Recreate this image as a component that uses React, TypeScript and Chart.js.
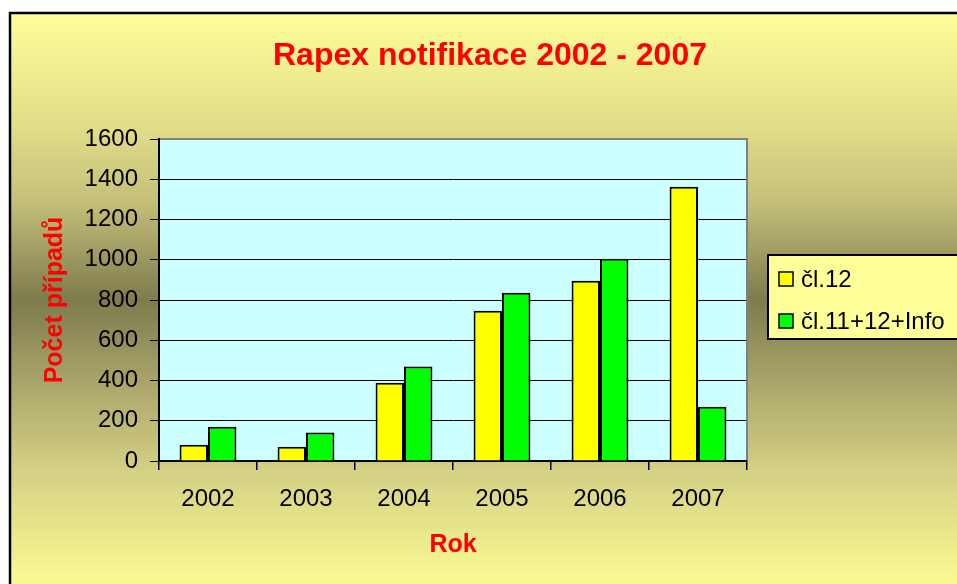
import React, { useEffect, useRef } from "react";
import { Chart, registerables } from "chart.js";

Chart.register(...registerables);

const years = ["2002", "2003", "2004", "2005", "2006", "2007"];
const cl12 = [81, 71, 389, 747, 896, 1363];
const cl11 = [170, 141, 469, 836, 1005, 270];
const seriesLabels = ["čl.12", "čl.11+12+Info"];
const seriesColors = ["#FFFF00", "#00FF00"];
const yMin = 0;
const yMax = 1600;
const yStep = 200;
const chartTitle = "Rapex notifikace 2002 - 2007";
const xTitle = "Rok";
const yTitle = "Počet případů";

const FONT = '"Liberation Sans", Arial, sans-serif';
const W = 980;
const H = 600;

const decorPlugin = {
  id: "decor",
  beforeDraw(chart: any) {
    const ctx = chart.ctx;
    ctx.save();
    ctx.fillStyle = "#FFFFFF";
    ctx.fillRect(0, 0, W, H);
    const g = ctx.createLinearGradient(0, 12, 0, 600);
    g.addColorStop(0, "#FFFF99");
    g.addColorStop(0.2, "#E0DC88");
    g.addColorStop(0.32, "#C4C07A");
    g.addColorStop(0.49, "#7E7B4E");
    g.addColorStop(0.66, "#B2AE70");
    g.addColorStop(0.78, "#D4D084");
    g.addColorStop(0.97, "#FAFA92");
    g.addColorStop(1, "#FFFF99");
    ctx.fillStyle = g;
    ctx.fillRect(10, 13, 1000, 700);
    ctx.strokeStyle = "#000";
    ctx.lineWidth = 2.5;
    ctx.beginPath();
    ctx.moveTo(10, 700);
    ctx.lineTo(10, 13);
    ctx.lineTo(1000, 13);
    ctx.stroke();
    const a = chart.chartArea;
    ctx.fillStyle = "#CCFFFF";
    ctx.fillRect(a.left, a.top, a.right - a.left, a.bottom - a.top);
    ctx.restore();
  },
  afterDraw(chart: any) {
    const ctx = chart.ctx;
    const a = chart.chartArea;
    ctx.save();
    ctx.strokeStyle = "#808080";
    ctx.lineWidth = 2;
    ctx.beginPath();
    ctx.moveTo(a.left + 1, a.top);
    ctx.lineTo(a.right, a.top);
    ctx.lineTo(a.right, a.bottom - 1);
    ctx.stroke();
    ctx.fillStyle = "#FF0000";
    ctx.font = `bold 32px ${FONT}`;
    ctx.textAlign = "center";
    ctx.textBaseline = "middle";
    ctx.fillText(chartTitle, 490, 56);
    const lx = 768, ly = 255, lw = 205, lh = 84;
    ctx.fillStyle = "#FFFF99";
    ctx.fillRect(lx, ly, lw, lh);
    ctx.strokeStyle = "#000";
    ctx.lineWidth = 2;
    ctx.strokeRect(lx, ly, lw, lh);
    chart.data.datasets.forEach((ds: any, i: number) => {
      const cy = 279 + i * 42;
      ctx.fillStyle = ds.backgroundColor;
      ctx.fillRect(779, cy - 7, 14, 14);
      ctx.lineWidth = 1.5;
      ctx.strokeStyle = "#000";
      ctx.strokeRect(779, cy - 7, 14, 14);
      ctx.fillStyle = "#000";
      ctx.font = `24px ${FONT}`;
      ctx.textAlign = "left";
      ctx.textBaseline = "middle";
      ctx.fillText(ds.label, 801, cy + 1);
    });
    ctx.restore();
  },
};

export default function App() {
  const ref = useRef<HTMLCanvasElement | null>(null);
  useEffect(() => {
    if (!ref.current) return;
    const chart = new Chart(ref.current, {
      type: "bar",
      data: {
        labels: years,
        datasets: [
          {
            label: seriesLabels[0],
            data: cl12,
            backgroundColor: seriesColors[0],
            borderColor: "#000",
            borderWidth: 2,
            categoryPercentage: 0.58,
            barPercentage: 1,
          },
          {
            label: seriesLabels[1],
            data: cl11,
            backgroundColor: seriesColors[1],
            borderColor: "#000",
            borderWidth: 2,
            categoryPercentage: 0.58,
            barPercentage: 1,
          },
        ],
      },
      options: {
        responsive: false,
        devicePixelRatio: 1,
        animation: false,
        layout: { padding: { left: 0, right: 233, top: 139, bottom: 0 } },
        plugins: {
          legend: { display: false },
          title: { display: false },
          tooltip: { enabled: false },
        },
        scales: {
          x: {
            ticks: { color: "#000", font: { size: 24, family: FONT }, padding: 15 },
            grid: {
              drawOnChartArea: false,
              drawTicks: true,
              tickLength: 9,
              color: "#000",
              lineWidth: 1.5,
              offset: true,
            },
            border: { display: true, color: "#000", width: 2 },
            title: {
              display: true,
              text: xTitle,
              color: "#FF0000",
              font: { size: 25, weight: "bold", family: FONT },
              padding: { top: 0, bottom: 40 },
            },
            afterFit: (s: any) => {
              s.height = 139;
            },
          },
          y: {
            min: yMin,
            max: yMax,
            ticks: {
              stepSize: yStep,
              color: "#000",
              font: { size: 24, family: FONT },
              padding: 12,
              callback: (v: any) => String(v),
            },
            grid: { color: "#000", lineWidth: 1, tickLength: 9, drawTicks: true },
            border: { display: true, color: "#000", width: 2 },
            title: {
              display: true,
              text: yTitle,
              color: "#FF0000",
              font: { size: 25, weight: "bold", family: FONT },
              padding: { top: 40, bottom: 0 },
            },
            afterFit: (s: any) => {
              s.width = 159;
            },
          },
        },
      } as any,
      plugins: [decorPlugin],
    });
    return () => chart.destroy();
  }, []);
  return (
    <div style={{ position: "fixed", left: 0, top: 0, width: 957, height: 584, overflow: "hidden", background: "#fff" }}>
      <canvas ref={ref} width={W} height={H} style={{ display: "block", width: W, height: H }} />
    </div>
  );
}
